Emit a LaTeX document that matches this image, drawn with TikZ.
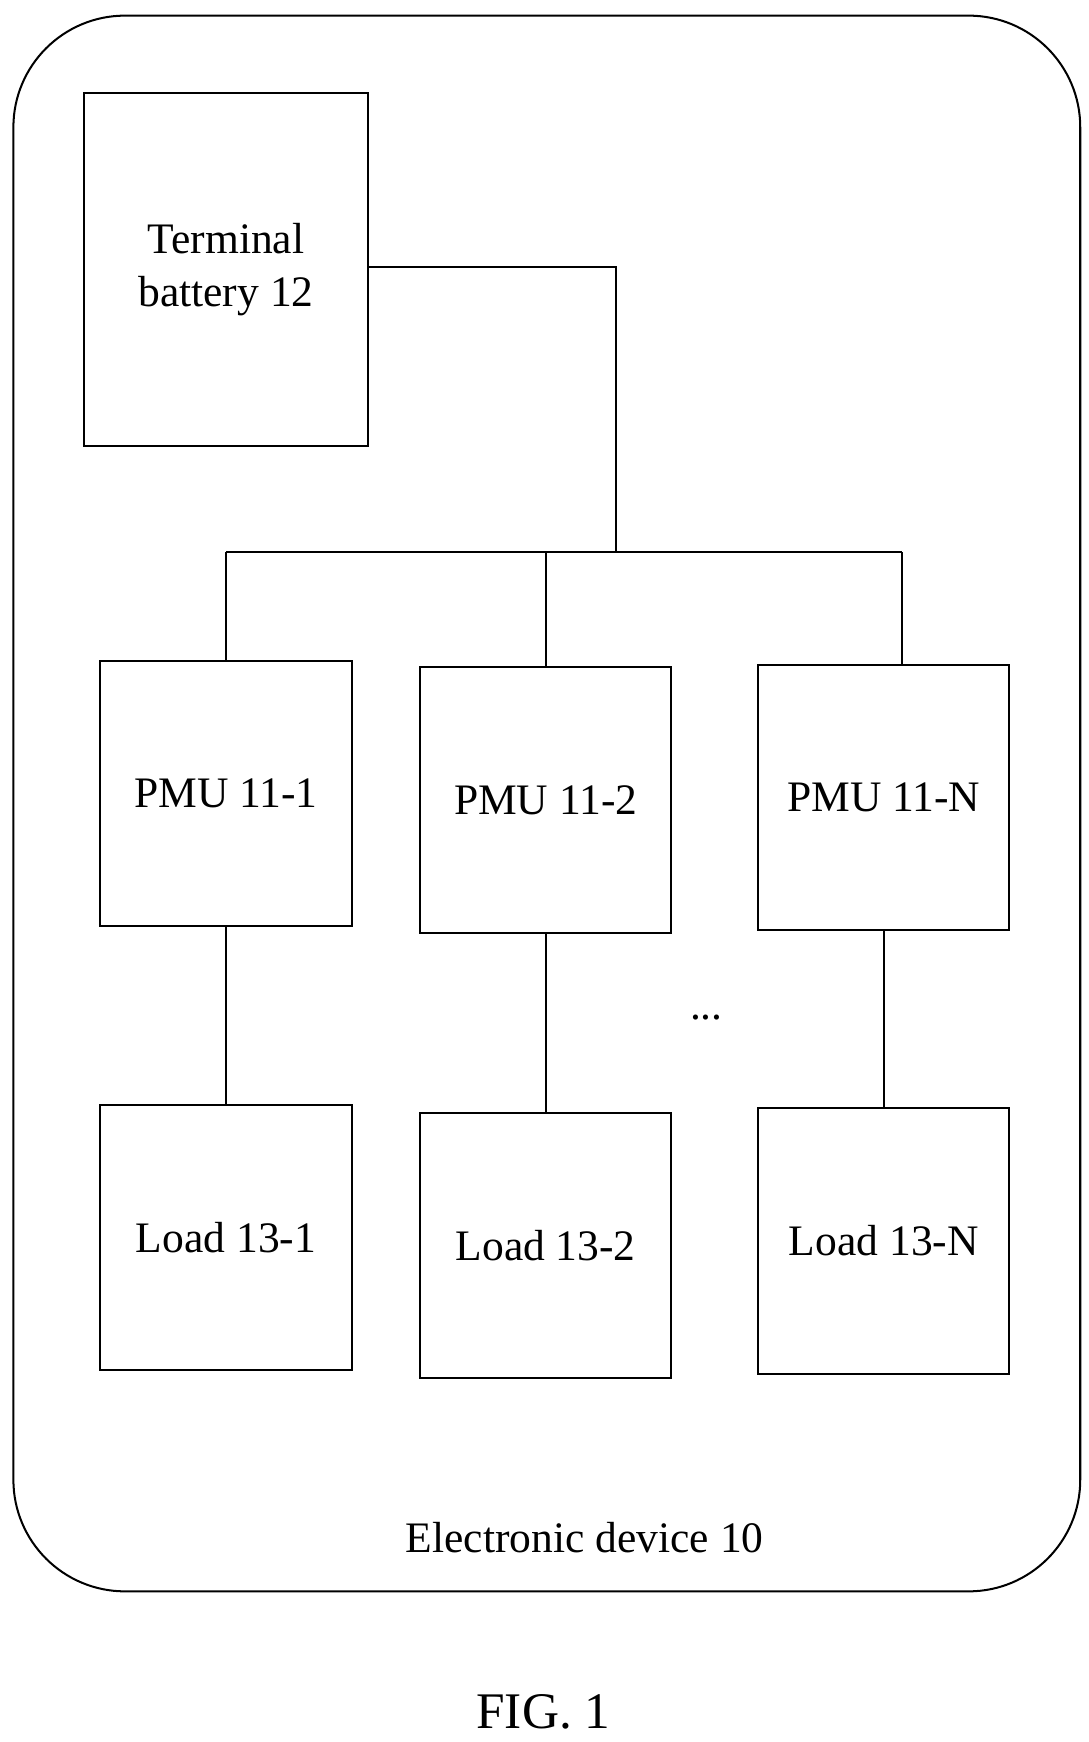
\documentclass[tikz,border=0pt]{standalone}
\usepackage{fontspec}
\setmainfont{Liberation Serif}
\begin{document}
\begin{tikzpicture}[x=1pt,y=-1pt,line width=1.8pt,
    box/.style={draw,inner sep=0pt,align=center,font=\fontsize{39}{47}\selectfont,
      minimum width=225pt,minimum height=238pt},
    lbl/.style={font=\fontsize{39}{47}\selectfont}]

      \useasboundingbox (0,0) rectangle (975,1561);
      \draw[rounded corners=100pt] (12,14) rectangle (968,1426);

      \node[box,minimum width=255pt,minimum height=317pt] (bat) at (202.5,241.5) {Terminal\\battery 12};

      \node[box] (pmu1) at (202.5,711) {PMU 11-1};
      \node[box] (pmu2) at (489,717) {PMU 11-2};
      \node[box] (pmuN) at (792,714.5) {PMU 11-N};

      \node[box] (load1) at (202.5,1109) {Load 13-1};
      \node[box] (load2) at (489,1116) {Load 13-2};
      \node[box] (loadN) at (792,1112) {Load 13-N};

      \coordinate (bus) at (552,495);
      \coordinate (busL) at (202.5,495);
      \coordinate (busR) at (808,495);

      \draw (bat.east |- 0,239) -| (bus);
      \draw (busL) -- (busR);
      \draw (busL) -- (pmu1.north);
      \draw (pmu2.north |- bus) -- (pmu2.north);
      \draw (busR) -- (busR |- pmuN.north);

      \draw (pmu1) -- (load1);
      \draw (pmu2) -- (load2);
      \draw (pmuN) -- (loadN);

      \node[lbl] (dots) at (633,912) {...};
      \node[lbl] (dev) at (524,1378) {Electronic device 10};
      \node[font=\fontsize{46}{54}\selectfont] (fig) at (487,1534) {FIG. 1};

    \end{tikzpicture}
\end{document}
